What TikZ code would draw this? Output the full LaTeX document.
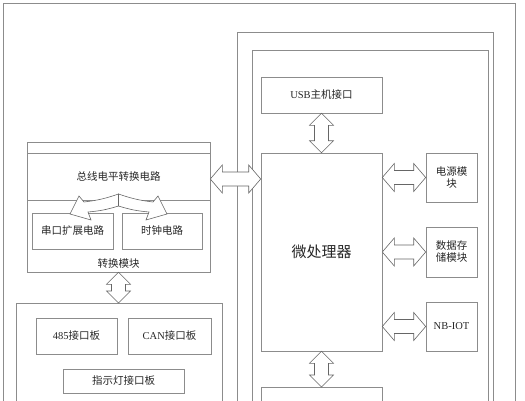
\documentclass[tikz,border=0pt]{standalone}
\usepackage{fontspec}
\setmainfont{Liberation Serif}
\newfontfamily\cjk{Noto Sans CJK SC}
\usetikzlibrary{calc}
\tikzset{
  ln/.style={draw=black!45, line width=0.6pt},
  box/.style={ln, rectangle, inner sep=1pt, align=center, font=\fontsize{10.5}{13}\selectfont, text=black!85},
  arr/.style={draw=black!60, line width=0.6pt, fill=white, line join=miter},
  lbl/.style={inner sep=1pt, font=\fontsize{10.5}{13}\selectfont, text=black!85}
}
\newcommand\hdarrow[2]{\draw[arr] let \p1=(#1), \p2=(#2) in
  (\x1,\y1) -- ({\x1+12pt},{\y1+14pt}) -- ({\x1+12pt},{\y1+7pt}) -- ({\x2-12pt},{\y1+7pt})
  -- ({\x2-12pt},{\y1+14pt}) -- (\x2,\y1) -- ({\x2-12pt},{\y1-14pt}) -- ({\x2-12pt},{\y1-7pt})
  -- ({\x1+12pt},{\y1-7pt}) -- ({\x1+12pt},{\y1-14pt}) -- cycle;}
\newcommand\vdarrow[2]{\draw[arr] let \p1=(#1), \p2=(#2) in
  (\x1,\y1) -- ({\x1+12pt},{\y1-12pt}) -- ({\x1+7pt},{\y1-12pt}) -- ({\x1+7pt},{\y2+12pt})
  -- ({\x1+12pt},{\y2+12pt}) -- (\x1,\y2) -- ({\x1-12pt},{\y2+12pt}) -- ({\x1-7pt},{\y2+12pt})
  -- ({\x1-7pt},{\y1-12pt}) -- ({\x1-12pt},{\y1-12pt}) -- cycle;}
\begin{document}
\begin{tikzpicture}[x=1pt,y=-1pt]
\useasboundingbox (0,0) rectangle (525,400);
\clip (0,0) rectangle (525,400);
% frames
\draw[ln] (3,3) rectangle (515,420);
\draw[ln] (237,32) rectangle (493,420);
\draw[ln] (252,50) rectangle (488,420);
% conversion module
\node[box, minimum width=183pt, minimum height=130pt] (conv) at (118.5,207) {};
\node[box, minimum width=183pt, minimum height=47pt] (bus) at (118.5,176.5) {\cjk 总线电平转换电路};
\node[box, minimum width=81pt, minimum height=36pt] (ser) at (72.5,231) {\cjk 串口扩展电路};
\node[box, minimum width=80pt, minimum height=36pt] (clk) at (162,231) {\cjk 时钟电路};
\node[lbl] (convlbl) at (118.5,264) {\cjk 转换模块};
% bottom-left board
\node[box, minimum width=206pt, minimum height=120pt, anchor=north west] (bl) at (16,303) {};
\node[box, minimum width=81pt, minimum height=36pt] (b485) at (76.5,336) {485{\cjk 接口板}};
\node[box, minimum width=83pt, minimum height=36pt] (bcan) at (169.5,336) {CAN{\cjk 接口板}};
\node[box, minimum width=121pt, minimum height=24pt] (bind) at (123.5,381) {\cjk 指示灯接口板};
% right side
\node[box, minimum width=121pt, minimum height=36pt] (usb) at (321.5,95) {USB{\cjk 主机接口}};
\node[box, minimum width=121pt, minimum height=198pt, font=\fontsize{15}{18}\selectfont] (mcu) at (321.5,252) {\cjk 微处理器};
\node[box, minimum width=51pt, minimum height=49pt] (pwr) at (451.5,177.5) {\cjk 电源模\\[-1pt]\cjk 块};
\node[box, minimum width=51pt, minimum height=50pt] (mem) at (451.5,252) {\cjk 数据存\\[-1pt]\cjk 储模块};
\node[box, minimum width=51pt, minimum height=49pt] (nb) at (451.5,326.5) {NB-IOT};
\node[box, minimum width=121pt, minimum height=40pt, anchor=north] (low) at (321.5,387) {};
% arrows
\coordinate (cA) at (conv.east |- 0,179);
\coordinate (cB) at (mcu.west |- 0,179);
\hdarrow{cA}{cB}
\vdarrow{conv.south}{bl.north -| conv.south}
\vdarrow{usb.south}{mcu.north}
\vdarrow{mcu.south}{low.north}
\hdarrow{mcu.east |- pwr}{pwr.west}
\hdarrow{mcu.east |- mem}{mem.west}
\hdarrow{mcu.east |- nb}{nb.west}
% fork arrow from bus to ser / clk
\draw[arr] (118.5,194) to[bend left=6] (84,202) -- (79,196) -- (70,214) -- (91,220) -- (88,212) to[bend right=6] (118.5,206) -- cycle;
\draw[arr] (118.5,194) to[bend right=6] (153,202) -- (158,196) -- (167,214) -- (146,220) -- (149,212) to[bend left=6] (118.5,206) -- cycle;
\end{tikzpicture}
\end{document}
